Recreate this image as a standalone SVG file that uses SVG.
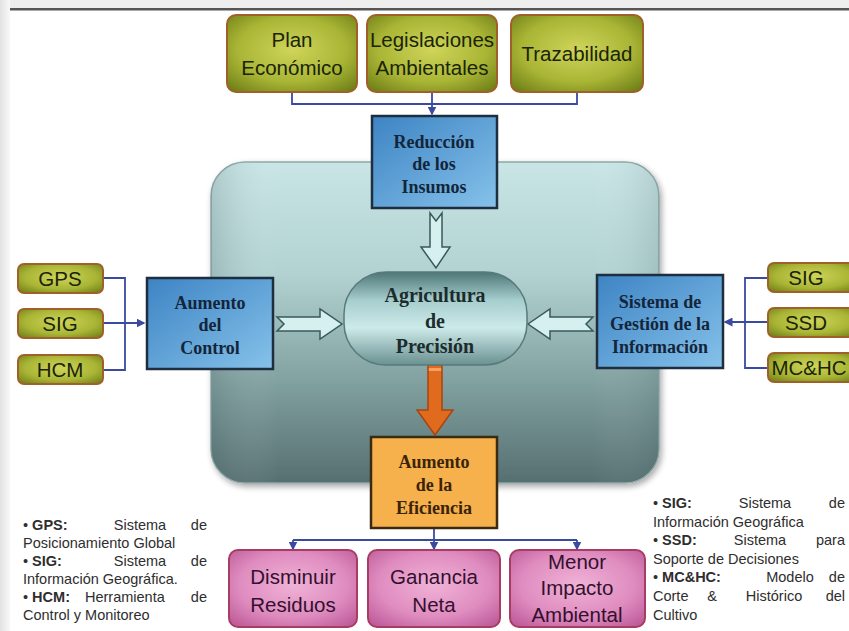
<svg xmlns="http://www.w3.org/2000/svg" width="849" height="631" viewBox="0 0 849 631">
<defs>
<linearGradient id="leftShade" x1="0" y1="0" x2="1" y2="0"><stop offset="0" stop-color="#e2e2e2"/><stop offset="1" stop-color="#f8f8f8"/></linearGradient>
<radialGradient id="gGreen" cx="0.5" cy="0.45" r="0.7"><stop offset="0" stop-color="#cfd55a"/><stop offset="0.6" stop-color="#a9b535"/><stop offset="1" stop-color="#6f7f18"/></radialGradient>
<radialGradient id="gPink" cx="0.5" cy="0.45" r="0.7"><stop offset="0" stop-color="#f0b2d6"/><stop offset="0.6" stop-color="#df8cc0"/><stop offset="1" stop-color="#bd5a98"/></radialGradient>
<linearGradient id="gBlue" x1="0" y1="0" x2="1" y2="1"><stop offset="0" stop-color="#3d84c4"/><stop offset="1" stop-color="#86c2ea"/></linearGradient>
<linearGradient id="gCenter" x1="0" y1="0" x2="0" y2="1"><stop offset="0" stop-color="#c9e5e5"/><stop offset="0.35" stop-color="#b2d2d2"/><stop offset="0.7" stop-color="#7f9e9e"/><stop offset="1" stop-color="#566f70"/></linearGradient>
<linearGradient id="gCenterH" x1="0" y1="0" x2="1" y2="0"><stop offset="0" stop-color="#3e5a5a" stop-opacity="0.2"/><stop offset="0.15" stop-color="#ffffff" stop-opacity="0"/><stop offset="0.85" stop-color="#ffffff" stop-opacity="0"/><stop offset="1" stop-color="#3e5a5a" stop-opacity="0.15"/></linearGradient>
<linearGradient id="gPill" x1="0" y1="0" x2="0" y2="1"><stop offset="0" stop-color="#4d7676"/><stop offset="0.3" stop-color="#a6cdcd"/><stop offset="0.6" stop-color="#cdeaea"/><stop offset="1" stop-color="#6a9090"/></linearGradient>
<marker id="ah" viewBox="0 0 6 6" refX="5" refY="3" markerWidth="5" markerHeight="5" orient="auto"><path d="M0,0 L6,3 L0,6 Z" fill="#3a4aa0"/></marker>
<filter id="sh" x="-10%" y="-10%" width="120%" height="120%"><feGaussianBlur in="SourceAlpha" stdDeviation="3"/><feOffset dx="2" dy="3"/><feComponentTransfer><feFuncA type="linear" slope="0.35"/></feComponentTransfer><feMerge><feMergeNode/><feMergeNode in="SourceGraphic"/></feMerge></filter>
</defs>
<style>
.green{fill:url(#gGreen);stroke:#a0602a;stroke-width:2}
.pink{fill:url(#gPink);stroke:#a83c62;stroke-width:2}
.blue{fill:url(#gBlue);stroke:#1e2e3e;stroke-width:2.5}
.orange{fill:#f6b04c;stroke:#3a2a10;stroke-width:2.5}
.sans{font-family:"Liberation Sans",Arial,sans-serif;font-size:20.5px;fill:#1a2408;text-anchor:middle}
.sansP{font-family:"Liberation Sans",Arial,sans-serif;font-size:20.5px;fill:#34102e;text-anchor:middle}
.serif{font-family:"Liberation Serif","Times New Roman",serif;font-weight:bold;font-size:18px;fill:#14253a;text-anchor:middle}
.serifO{font-family:"Liberation Serif","Times New Roman",serif;font-weight:bold;font-size:18px;fill:#3a2408;text-anchor:middle}
.pillT{font-family:"Liberation Serif","Times New Roman",serif;font-weight:bold;font-size:20px;fill:#1c2c2c;text-anchor:middle}
.leg{font-family:"Liberation Sans",Arial,sans-serif;font-size:14.5px;fill:#2e2e2e}
.conn{fill:none;stroke:#3a4aa0;stroke-width:1.8}
.hollow{fill:#d6efef;stroke:#3a5a5a;stroke-width:1.5}
</style>
<!-- page background -->
<rect x="0" y="0" width="849" height="631" fill="#ffffff"/>
<rect x="0" y="0" width="849" height="8" fill="#eeeeee"/>
<rect x="0" y="0" width="10" height="631" fill="url(#leftShade)"/>
<rect x="10" y="8" width="839" height="2.5" fill="#555555"/>

<!-- central panel -->
<g id="panel">
<rect x="211" y="162" width="448" height="321" rx="34" fill="url(#gCenter)" stroke="#8fa8a8" stroke-width="1.5" filter="url(#sh)"/>
<rect x="211" y="162" width="448" height="321" rx="34" fill="url(#gCenterH)"/>
</g>

<!-- connectors -->
<g id="connectors">
<path class="conn" d="M292,92 V104 H577 V92"/>
<path class="conn" d="M432,92 V114" marker-end="url(#ah)"/>
<path class="conn" d="M103,278 H125 V370 H103"/>
<path class="conn" d="M103,323 H144" marker-end="url(#ah)"/>
<path class="conn" d="M768,278 H745 V368 H768"/>
<path class="conn" d="M768,322 H725" marker-end="url(#ah)"/>
<path class="conn" d="M434,528 V540"/>
<path class="conn" d="M293,540 H577"/>
<path class="conn" d="M293,540 V549" marker-end="url(#ah)"/>
<path class="conn" d="M434,540 V549" marker-end="url(#ah)"/>
<path class="conn" d="M577,540 V549" marker-end="url(#ah)"/>
<polygon id="arrowDown" class="hollow" points="430,213 436,221 442,213 442,247 450,247 436,268 421,247 430,247"/>
<polygon id="arrowRight" class="hollow" points="277,317 320,317 320,309 342,324 320,339 320,331 277,331 284,324"/>
<polygon id="arrowLeft" class="hollow" points="528,324 550,309 550,317 593,317 586,324 593,331 550,331 550,339"/>
<g id="arrowOrange">
<polygon points="428,365 442,365 442,410 453,410 435,435 417,410 428,410" fill="#e06a1e" stroke="#a8440e" stroke-width="1.5"/>
<rect x="428.8" y="368" width="12.4" height="3" fill="#f3a060"/>
</g>
</g>

<!-- top inputs -->
<g id="planEconomico"><rect class="green" x="227" y="15" width="130" height="77" rx="9"/>
<text class="sans" x="292" y="47">Plan</text><text class="sans" x="292" y="75">Económico</text></g>
<g id="legislaciones"><rect class="green" x="367" y="15" width="130" height="77" rx="9"/>
<text class="sans" x="432" y="47">Legislaciones</text><text class="sans" x="432" y="75">Ambientales</text></g>
<g id="trazabilidad"><rect class="green" x="511" y="15" width="132" height="77" rx="9"/>
<text class="sans" x="577" y="61">Trazabilidad</text></g>

<!-- blue nodes -->
<g id="reduccion"><rect class="blue" x="372" y="116" width="125" height="92"/>
<text class="serif" x="434" y="148">Reducción</text><text class="serif" x="434" y="170">de los</text><text class="serif" x="434" y="193">Insumos</text></g>
<g id="aumentoControl"><rect class="blue" x="147" y="278" width="126" height="91"/>
<text class="serif" x="210" y="309">Aumento</text><text class="serif" x="210" y="331">del</text><text class="serif" x="210" y="354">Control</text></g>
<g id="sistemaGestion"><rect class="blue" x="597" y="275" width="126" height="93"/>
<text class="serif" x="660" y="308">Sistema de</text><text class="serif" x="660" y="330">Gestión de la</text><text class="serif" x="660" y="353">Información</text></g>

<!-- center -->
<g id="agricultura"><rect x="344" y="272" width="183" height="93" rx="42" fill="url(#gPill)" stroke="#587a7a" stroke-width="1.5"/>
<text class="pillT" x="435" y="302">Agricultura</text><text class="pillT" x="435" y="328">de</text><text class="pillT" x="435" y="353">Precisión</text></g>

<!-- left inputs -->
<g id="gps"><rect class="green" x="18" y="264" width="85" height="29" rx="6"/><text class="sans" x="60" y="286">GPS</text></g>
<g id="sigL"><rect class="green" x="18" y="309" width="85" height="29" rx="6"/><text class="sans" x="60" y="331">SIG</text></g>
<g id="hcm"><rect class="green" x="18" y="355" width="85" height="29" rx="6"/><text class="sans" x="60" y="377">HCM</text></g>

<!-- right inputs -->
<g id="sigR"><rect class="green" x="768" y="263" width="90" height="29" rx="6"/><text class="sans" x="806" y="285">SIG</text></g>
<g id="ssd"><rect class="green" x="768" y="308" width="90" height="29" rx="6"/><text class="sans" x="806" y="330">SSD</text></g>
<g id="mchc"><rect class="green" x="768" y="353" width="90" height="29" rx="6"/><text class="sans" x="809" y="375">MC&amp;HC</text></g>

<!-- efficiency -->
<g id="aumentoEficiencia"><rect class="orange" x="371" y="437" width="126" height="91"/>
<text class="serifO" x="434" y="468">Aumento</text><text class="serifO" x="434" y="491">de la</text><text class="serifO" x="434" y="514">Eficiencia</text></g>

<!-- outputs -->
<g id="disminuir"><rect class="pink" x="229" y="550" width="128" height="77" rx="9"/>
<text class="sansP" x="293" y="584">Disminuir</text><text class="sansP" x="293" y="612">Residuos</text></g>
<g id="ganancia"><rect class="pink" x="368" y="550" width="132" height="77" rx="9"/>
<text class="sansP" x="434" y="584">Ganancia</text><text class="sansP" x="434" y="612">Neta</text></g>
<g id="menor"><rect class="pink" x="510" y="550" width="135" height="77" rx="9"/>
<text class="sansP" x="577" y="569">Menor</text><text class="sansP" x="577" y="595">Impacto</text><text class="sansP" x="577" y="622">Ambiental</text></g>

<!-- left legend -->
<g id="legendLeft" class="leg">
<text x="23" y="530">• <tspan font-weight="bold">GPS:</tspan></text><text x="140" y="530" text-anchor="middle">Sistema</text><text x="207" y="530" text-anchor="end">de</text>
<text x="23" y="548">Posicionamiento Global</text>
<text x="23" y="566">• <tspan font-weight="bold">SIG:</tspan></text><text x="140" y="566" text-anchor="middle">Sistema</text><text x="207" y="566" text-anchor="end">de</text>
<text x="23" y="584">Información Geográfica.</text>
<text x="23" y="602">• <tspan font-weight="bold">HCM:</tspan></text><text x="85" y="602">Herramienta</text><text x="207" y="602" text-anchor="end">de</text>
<text x="23" y="620">Control y Monitoreo</text>
</g>

<!-- right legend -->
<g id="legendRight" class="leg">
<text x="653" y="508">• <tspan font-weight="bold">SIG:</tspan></text><text x="765" y="508" text-anchor="middle">Sistema</text><text x="845" y="508" text-anchor="end">de</text>
<text x="653" y="527">Información Geográfica</text>
<text x="653" y="545">• <tspan font-weight="bold">SSD:</tspan></text><text x="760" y="545" text-anchor="middle">Sistema</text><text x="845" y="545" text-anchor="end">para</text>
<text x="653" y="564">Soporte de Decisiones</text>
<text x="653" y="582">• <tspan font-weight="bold">MC&amp;HC:</tspan></text><text x="790" y="582" text-anchor="middle">Modelo</text><text x="845" y="582" text-anchor="end">de</text>
<text x="653" y="601">Corte</text><text x="712" y="601" text-anchor="middle">&amp;</text><text x="774" y="601" text-anchor="middle">Histórico</text><text x="845" y="601" text-anchor="end">del</text>
<text x="653" y="620">Cultivo</text>
</g>
</svg>
